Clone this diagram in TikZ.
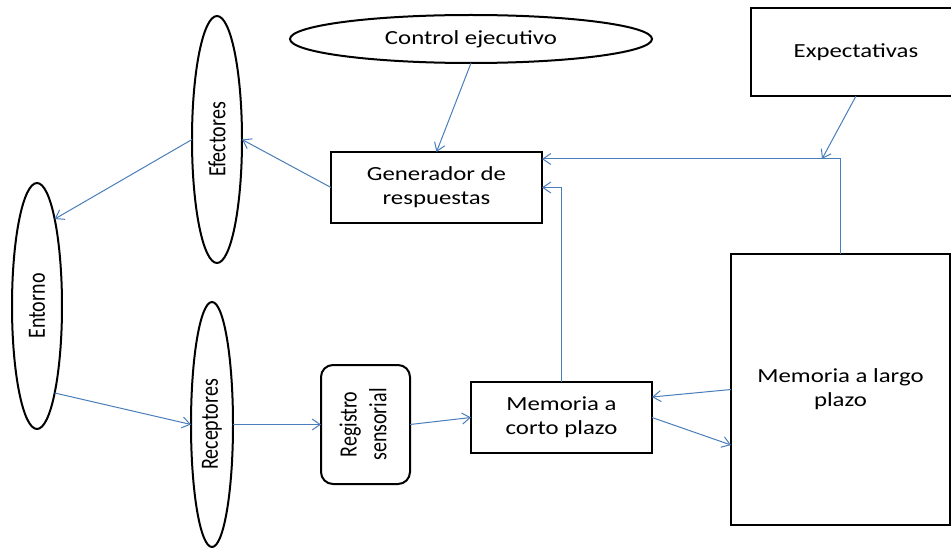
\documentclass[tikz,border=0pt]{standalone}
\usepackage{fontspec}
\usepackage{graphicx}
\usetikzlibrary{arrows.meta,shapes.geometric}
\newfontfamily\hfont{Carlito}[FakeStretch=1.24]
\newfontfamily\vfont{Carlito}
\definecolor{linkblue}{HTML}{4A7EBB}
\newcommand{\vtext}[1]{\rotatebox{90}{\scalebox{1}[1.24]{\vfont\fontsize{20}{24}\selectfont #1}}}
\tikzset{
  shapeline/.style={draw=black, line width=2pt, fill=white, inner sep=0pt, outer sep=0pt},
  oval/.style={shapeline, ellipse},
  boxnode/.style={shapeline, rectangle, align=center, font=\hfont\fontsize{20}{24}\selectfont},
  roundbox/.style={shapeline, rectangle, rounded corners=12pt},
  arr/.style={draw=linkblue, line width=1pt, -{Straight Barb[length=8pt,width=11pt]}},
}
\begin{document}
\begin{tikzpicture}[x=1pt,y=-1pt]
\useasboundingbox (0,0) rectangle (951,548);
\clip (0,0) rectangle (951,548);
\fill[white] (0,0) rectangle (951,548);

% nodes
\node[oval, minimum width=362pt, minimum height=48pt, font=\hfont\fontsize{20}{24}\selectfont] (ctrl) at (471,39) {Control ejecutivo};
\node[oval, minimum width=50pt, minimum height=247pt] (efec) at (217,139.5) {\vtext{Efectores}};
\node[oval, minimum width=50pt, minimum height=246pt] (ento) at (37,306) {\vtext{Entorno}};
\node[oval, minimum width=42pt, minimum height=245pt] (rece) at (212,424.5) {\vtext{Receptores}};
\node[boxnode, minimum width=211pt, minimum height=71pt] (gen) at (436.5,187.5) {Generador de\\respuestas};
\node[boxnode, minimum width=210pt, minimum height=88pt] (expe) at (856,52) {Expectativas};
\node[boxnode, minimum width=219pt, minimum height=271pt] (mlp) at (840.5,389.5) {Memoria a largo\\plazo};
\node[roundbox, minimum width=89pt, minimum height=119pt] (reg) at (365.5,424.5)
  {\vtext{\begin{tabular}{@{}c@{}}Registro\\sensorial\end{tabular}}};
\node[boxnode, minimum width=181pt, minimum height=71pt] (mcp) at (561.5,417.5) {Memoria a\\corto plazo};

\coordinate (join) at (822,159);

% connectors
\draw[arr] (ctrl.south) -- (gen.north);
\draw[arr] (gen.west) -- (efec.east);
\draw[arr] (efec.west) -- (ento.north east);
\draw[arr] (ento.south east) -- (rece.west);
\draw[arr] (rece.east) -- (reg.west);
\draw[arr] (reg.east) -- (mcp.west);
\draw[arr] (mlp.west) -- ([yshift=20.5pt]mcp.east);
\draw[arr] (mcp.east) -- ([yshift=-55.5pt]mlp.west);
\draw[arr] (mcp.north) |- (gen.east);
\draw[arr] (mlp.north) |- ([yshift=28.5pt]gen.east);
\draw[arr] (expe.south) -- (join);
\end{tikzpicture}
\end{document}
